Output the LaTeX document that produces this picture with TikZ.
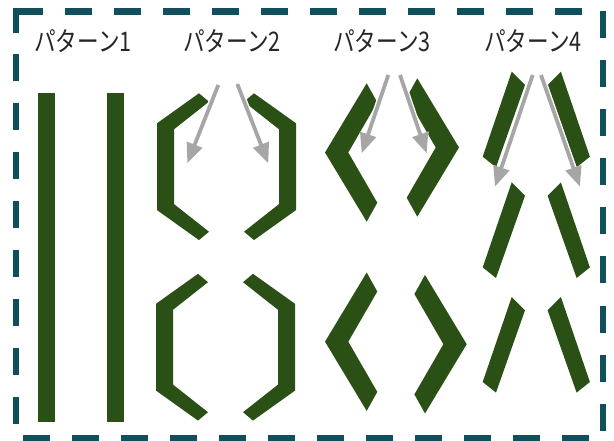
\documentclass[tikz,border=0pt]{standalone}
\usepackage{fontspec}
\newfontfamily\jpfont[FakeStretch=0.8]{Noto Sans CJK JP}
\usetikzlibrary{arrows.meta}
\definecolor{LeafGreen}{HTML}{2A5016}
\definecolor{FrameTeal}{HTML}{124F5D}
\definecolor{ArrowGray}{HTML}{A6A6A6}
\tikzset{
  % green piece
  leaf/.style={fill=LeafGreen},
  % dashed outline, #1 = dash phase
  fence/.style={draw=FrameTeal, line width=6.5pt,
    dash pattern=on 27pt off 22pt, dash phase=#1},
  fence/.default=0pt,
  % grey arrow with white halo
  garr/.style={
    -{Triangle[length=20pt,width=16pt]},
    line width=3.8pt, color=ArrowGray,
    preaction={draw=white, line width=6.5pt}
  },
  % pattern title
  ttl/.style={font=\jpfont\fontsize{27}{30}\selectfont, text=black!85}
}

\begin{document}
\begin{tikzpicture}[x=1pt, y=-1pt]
  \useasboundingbox (0,0) rectangle (614,441);

  % dashed outline
  \draw[fence]       (16,11.5) -- (603,11.5);
  \draw[fence]       (603,11.5) -- (603,438);
  \draw[fence=42pt]  (16,438) -- (603,438);
  \draw[fence=6.5pt] (16,11.5) -- (16,438);
  \draw[draw=FrameTeal, line width=6.5pt] (16,33) -- (16,11.5) -- (43,11.5);

  % titles
  \node[ttl] (ttl1) at (83,41)  {パターン1};
  \node[ttl] (ttl2) at (232,41) {パターン2};
  \node[ttl] (ttl3) at (382,41) {パターン3};
  \node[ttl] (ttl4) at (533,41) {パターン4};

  % pattern 1: straight bars
  \fill[leaf] (37.7,92.7) rectangle (55,421.7);
  \fill[leaf] (107.3,92.7) rectangle (124.3,421.7);

  % pattern 2: bracket pairs
  \foreach \ax/\yc in {226.5/166.7, 225.5/347.2}
    \foreach \s in {1,-1}
      \fill[leaf, shift={(\ax,\yc)}, xscale=\s]
        (-69.5,-43.4) -- (-27.5,-73.4) -- (-17.5,-65) -- (-52.5,-37.4)
        -- (-52.5,37.4) -- (-17.5,65) -- (-27.5,73.4) -- (-69.5,43.4) -- cycle;

  % pattern 3: chevrons
  \foreach \tx/\ty/\s in {325/152.5/1, 459/147.5/-1, 325/341.7/1, 466.7/344.2/-1}
    \fill[leaf, shift={(\tx,\ty)}, xscale=\s]
      (0,0) -- (41.7,-69.2) -- (52.3,-50.2) -- (23.3,0)
      -- (52.3,50.2) -- (41.7,69.2) -- cycle;

  % pattern 4: slanted bars
  \foreach \dy in {0,110.7,225.3}
    \foreach \s in {1,-1}
      \fill[leaf, shift={(536.3,\dy)}, xscale=\s]
        (-24.6,71.7) -- (-11.3,85) -- (-40.3,167.3) -- (-53.6,156.7) -- cycle;

  % arrows
  \coordinate (a2l) at (218.3,85);  \coordinate (h2l) at (187.3,163.3);
  \coordinate (a2r) at (237.3,84);  \coordinate (h2r) at (268.3,163.3);
  \coordinate (a3l) at (388.3,75);  \coordinate (h3l) at (361.7,153.3);
  \coordinate (a3r) at (400,75);    \coordinate (h3r) at (426.7,153.3);
  \coordinate (a4l) at (532.7,75);  \coordinate (h4l) at (495,186.7);
  \coordinate (a4r) at (541,75);    \coordinate (h4r) at (580,186.7);
  \foreach \p in {2l,2r,3l,3r,4l,4r}
    \draw[garr] (a\p) -- (h\p);
\end{tikzpicture}
\end{document}
